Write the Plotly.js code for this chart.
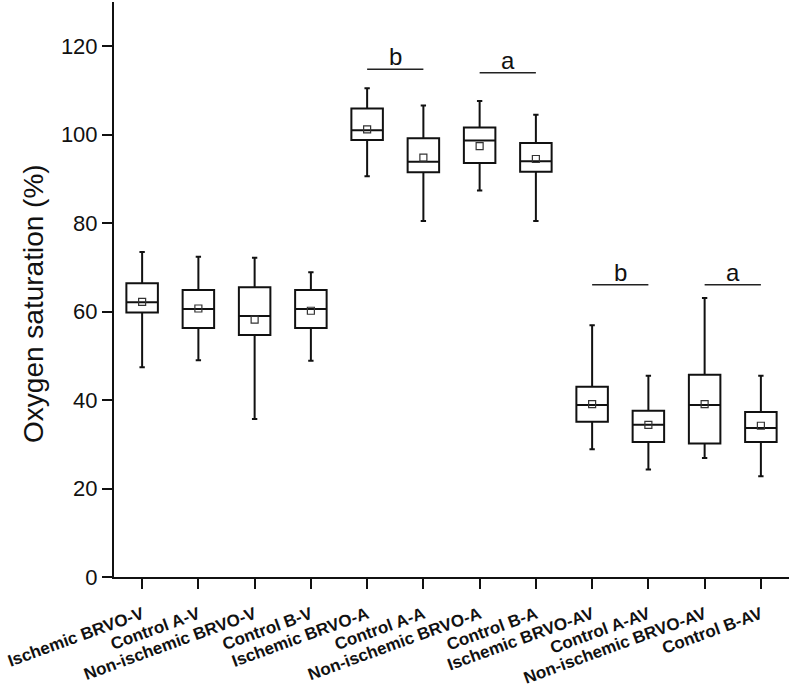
<!DOCTYPE html>
<html>
<head>
<meta charset="utf-8">
<script src="https://cdn.plot.ly/plotly-3.0.1.min.js"></script>
<style>html,body{margin:0;padding:0;background:#fff;}#chart{width:792px;height:690px;}</style>
</head>
<body>
<div id="chart"></div>
<script>
const categories = ["Ischemic BRVO-V","Control A-V","Non-ischemic BRVO-V","Control B-V",
  "Ischemic BRVO-A","Control A-A","Non-ischemic BRVO-A","Control B-A",
  "Ischemic BRVO-AV","Control A-AV","Non-ischemic BRVO-AV","Control B-AV"];
const lowerWhisker = [47.4, 49.0, 35.7, 48.9, 90.6, 80.5, 87.4, 80.5, 28.9, 24.3, 26.9, 22.8];
const q1Values     = [59.8, 56.3, 54.7, 56.3, 98.8, 91.5, 93.6, 91.6, 35.1, 30.5, 30.2, 30.5];
const medianValues = [62.1, 60.6, 59.0, 60.6, 101.0, 93.9, 98.7, 94.0, 38.9, 34.4, 38.9, 33.7];
const q3Values     = [66.4, 64.9, 65.5, 64.9, 105.9, 99.2, 101.6, 98.1, 43.0, 37.6, 45.7, 37.3];
const upperWhisker = [73.5, 72.4, 72.2, 68.9, 110.5, 106.6, 107.6, 104.5, 56.9, 45.5, 63.1, 45.5];
const meanValues   = [62.2, 60.7, 58.2, 60.2, 101.2, 94.8, 97.4, 94.5, 39.1, 34.4, 39.1, 34.2];

// significance brackets: from category, to category, letter, level
const sigFrom   = [4, 6, 8, 10];
const sigTo     = [5, 7, 9, 11];
const sigLetter = ["b", "a", "b", "a"];
const sigLevel  = [114.8, 114.0, 66.1, 66.1];

const yTitle = 'Oxygen saturation (%)';
const FONT = 'Liberation Sans, Arial, sans-serif';

const boxTrace = {
  type: 'box',
  x: categories,
  q1: q1Values,
  median: medianValues,
  q3: q3Values,
  lowerfence: lowerWhisker,
  upperfence: upperWhisker,
  boxpoints: false,
  fillcolor: 'rgba(255,255,255,0)',
  line: {color: '#111', width: 2},
  whiskerwidth: 0.17,
  showlegend: false,
  hoverinfo: 'skip'
};
const meanTrace = {
  type: 'scatter',
  mode: 'markers',
  x: categories,
  y: meanValues,
  marker: {symbol: 'square-open', size: 7, color: '#333', line: {width: 1.2, color: '#333'}},
  showlegend: false,
  hoverinfo: 'skip'
};

const shapes = [];
const annotations = [];
for (let i = 0; i < sigFrom.length; i++) {
  shapes.push({type: 'line', xref: 'x', yref: 'y',
    x0: sigFrom[i], x1: sigTo[i], y0: sigLevel[i], y1: sigLevel[i],
    line: {color: '#222', width: 1.5}});
  annotations.push({xref: 'x', yref: 'y', x: (sigFrom[i] + sigTo[i]) / 2, y: sigLevel[i],
    text: sigLetter[i], showarrow: false, yanchor: 'bottom', yshift: -3,
    font: {family: FONT, size: 24, color: '#111'}});
}
// y-axis title, placed as a rotated annotation to match the reference position
annotations.push({xref: 'paper', yref: 'paper', x: -0.1193, y: 0.4757,
  xanchor: 'center', yanchor: 'middle', textangle: -90, showarrow: false,
  text: yTitle, font: {family: FONT, size: 28, color: '#111'}});

const layout = {
  width: 792, height: 690,
  margin: {l: 114, r: 3, t: 2, b: 113},
  paper_bgcolor: '#fff', plot_bgcolor: '#fff',
  boxgap: 0.2,
  showlegend: false,
  font: {family: FONT, color: '#111'},
  xaxis: {
    type: 'category',
    range: [-0.5, 11.5],
    showgrid: false, zeroline: false,
    showline: true, linecolor: '#111', linewidth: 2,
    ticks: 'outside', ticklen: 10, tickwidth: 2, tickcolor: '#111',
    tickangle: -20,
    ticklabelstandoff: 9,
    tickfont: {family: FONT, size: 17, weight: 'bold', color: '#111'}
  },
  yaxis: {
    range: [0, 130],
    tickvals: [0, 20, 40, 60, 80, 100, 120],
    showgrid: false, zeroline: false,
    showline: true, linecolor: '#111', linewidth: 2,
    ticks: 'outside', ticklen: 10, tickwidth: 2, tickcolor: '#111',
    tickfont: {family: FONT, size: 22, color: '#111'}
  },
  shapes: shapes,
  annotations: annotations
};

Plotly.newPlot('chart', [boxTrace, meanTrace], layout, {staticPlot: true});
</script>
</body>
</html>
